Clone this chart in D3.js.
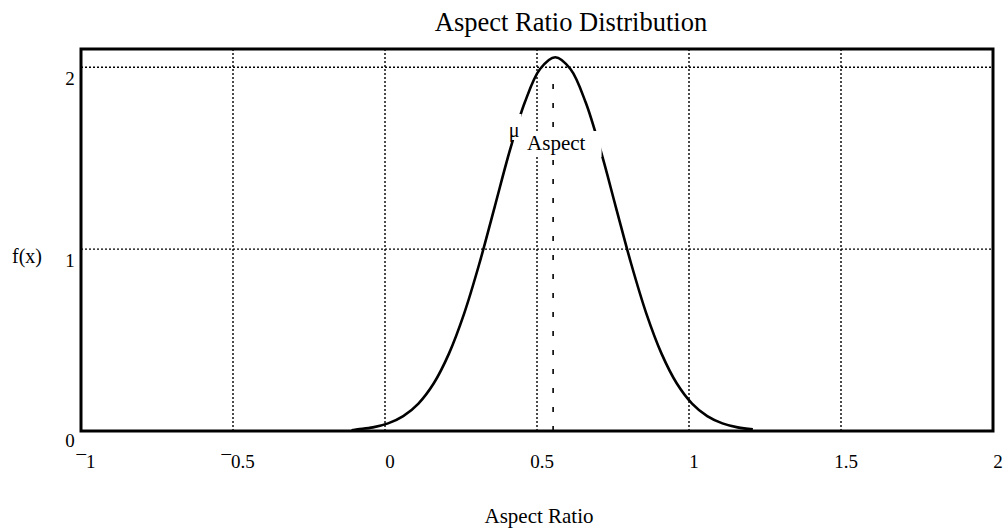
<!DOCTYPE html>
<html><head><meta charset="utf-8">
<script src="https://cdn.jsdelivr.net/npm/d3@7"></script>
<style>
body{margin:0;background:#fff}
text{font-family:"Liberation Serif","Times New Roman",serif;fill:#000}
</style>
</head><body>
<svg id="c" width="1004" height="529"></svg>
<script>
// ---- data ----
const aspectX = [-0.11,-0.09,-0.04,0.01,0.06,0.11,0.16,0.21,0.26,0.31,0.36,0.41,0.46,0.51,0.56,0.61,0.66,0.71,0.76,0.81,0.86,0.91,0.96,1.01,1.06,1.11,1.16,1.21];
const densityF = [0.004,0.009,0.020,0.042,0.082,0.151,0.261,0.424,0.644,0.918,1.227,1.538,1.807,1.990,2.055,1.990,1.807,1.538,1.227,0.918,0.644,0.424,0.261,0.151,0.082,0.042,0.020,0.009];
const xTicks = [-1,-0.5,0,0.5,1,1.5,2];
const xTickLabels = ["\u00AF1","\u00AF0.5","0","0.5","1","1.5","2"];
const xGrid = [-0.5,0,0.5,1,1.5];
const yTicks = [0,1,2];
const yTickLabels = ["0","1","2"];
const yGrid = [1,2];
const meanAspect = 0.553;
const titleText = "Aspect Ratio Distribution";
const xTitle = "Aspect Ratio";
const yTitle = "f(x)";

// ---- layout ----
const L=81, R=993, T=49, B=431;
const svg = d3.select("#c");
const x = d3.scaleLinear().domain([-1,2]).range([L,R]);
const y = d3.scaleLinear().domain([0,2.1]).range([B,T]);

svg.append("clipPath").attr("id","clip").append("rect")
  .attr("x",L).attr("y",T).attr("width",R-L).attr("height",B-T);

// gridlines
const g = svg.append("g").attr("clip-path","url(#clip)");
g.selectAll(".vg").data(xGrid).join("line")
  .attr("x1",d=>x(d)).attr("x2",d=>x(d)).attr("y1",T).attr("y2",B)
  .attr("stroke","#000").attr("stroke-width",1.4).attr("stroke-dasharray","2,2");
g.selectAll(".hg").data(yGrid).join("line")
  .attr("y1",d=>y(d)).attr("y2",d=>y(d)).attr("x1",L).attr("x2",R)
  .attr("stroke","#000").attr("stroke-width",1.4).attr("stroke-dasharray","2,2");

// mean line
g.append("line")
  .attr("x1",x(meanAspect)).attr("x2",x(meanAspect))
  .attr("y1",y(0)).attr("y2",y(1.95))
  .attr("stroke","#000").attr("stroke-width",1.6).attr("stroke-dasharray","5,14");

// curve
const pts = aspectX.map((v,i)=>[v,densityF[i]]);
g.append("path").datum(pts)
  .attr("fill","none").attr("stroke","#000").attr("stroke-width",2.6)
  .attr("d", d3.line().x(d=>x(d[0])).y(d=>y(d[1])).curve(d3.curveCatmullRom));

// label mu Aspect with white boxes
const lab = svg.append("g");
const muT = lab.append("text").attr("x",x(meanAspect)-39).attr("y",137)
  .attr("font-size",20).attr("text-anchor","middle").text("\u03BC");
const asT = lab.append("text").attr("x",x(meanAspect)-26).attr("y",150)
  .attr("font-size",21).text("Aspect");
const b1 = muT.node().getBBox();
lab.insert("rect","text").attr("x",b1.x-1).attr("y",b1.y-5).attr("width",b1.width+3).attr("height",b1.height+3).attr("fill","#fff");
const b2 = asT.node().getBBox();
lab.insert("rect","text").attr("x",b2.x-2).attr("y",b2.y).attr("width",b2.width+18).attr("height",b2.height+2).attr("fill","#fff");

// frame
svg.append("rect").attr("x",L).attr("y",T).attr("width",R-L).attr("height",B-T)
  .attr("fill","none").attr("stroke","#000").attr("stroke-width",3);

// tick labels
svg.selectAll(".xt").data(xTicks).join("text")
  .attr("x",d=>x(d)+5).attr("y",468).attr("font-size",19).attr("text-anchor","middle")
  .text((d,i)=>xTickLabels[i]);
svg.selectAll(".yt").data(yTicks).join("text")
  .attr("x",70).attr("y",d=>y(d)+(d===0?16:18)).attr("font-size",19).attr("text-anchor","middle")
  .text((d,i)=>yTickLabels[i]);

// titles
svg.append("text").attr("x",571).attr("y",31).attr("font-size",26.5).attr("text-anchor","middle").text(titleText);
svg.append("text").attr("x",539).attr("y",523).attr("font-size",21).attr("text-anchor","middle").text(xTitle);
svg.append("text").attr("x",12).attr("y",263).attr("font-size",20).text(yTitle);
</script>
</body></html>
